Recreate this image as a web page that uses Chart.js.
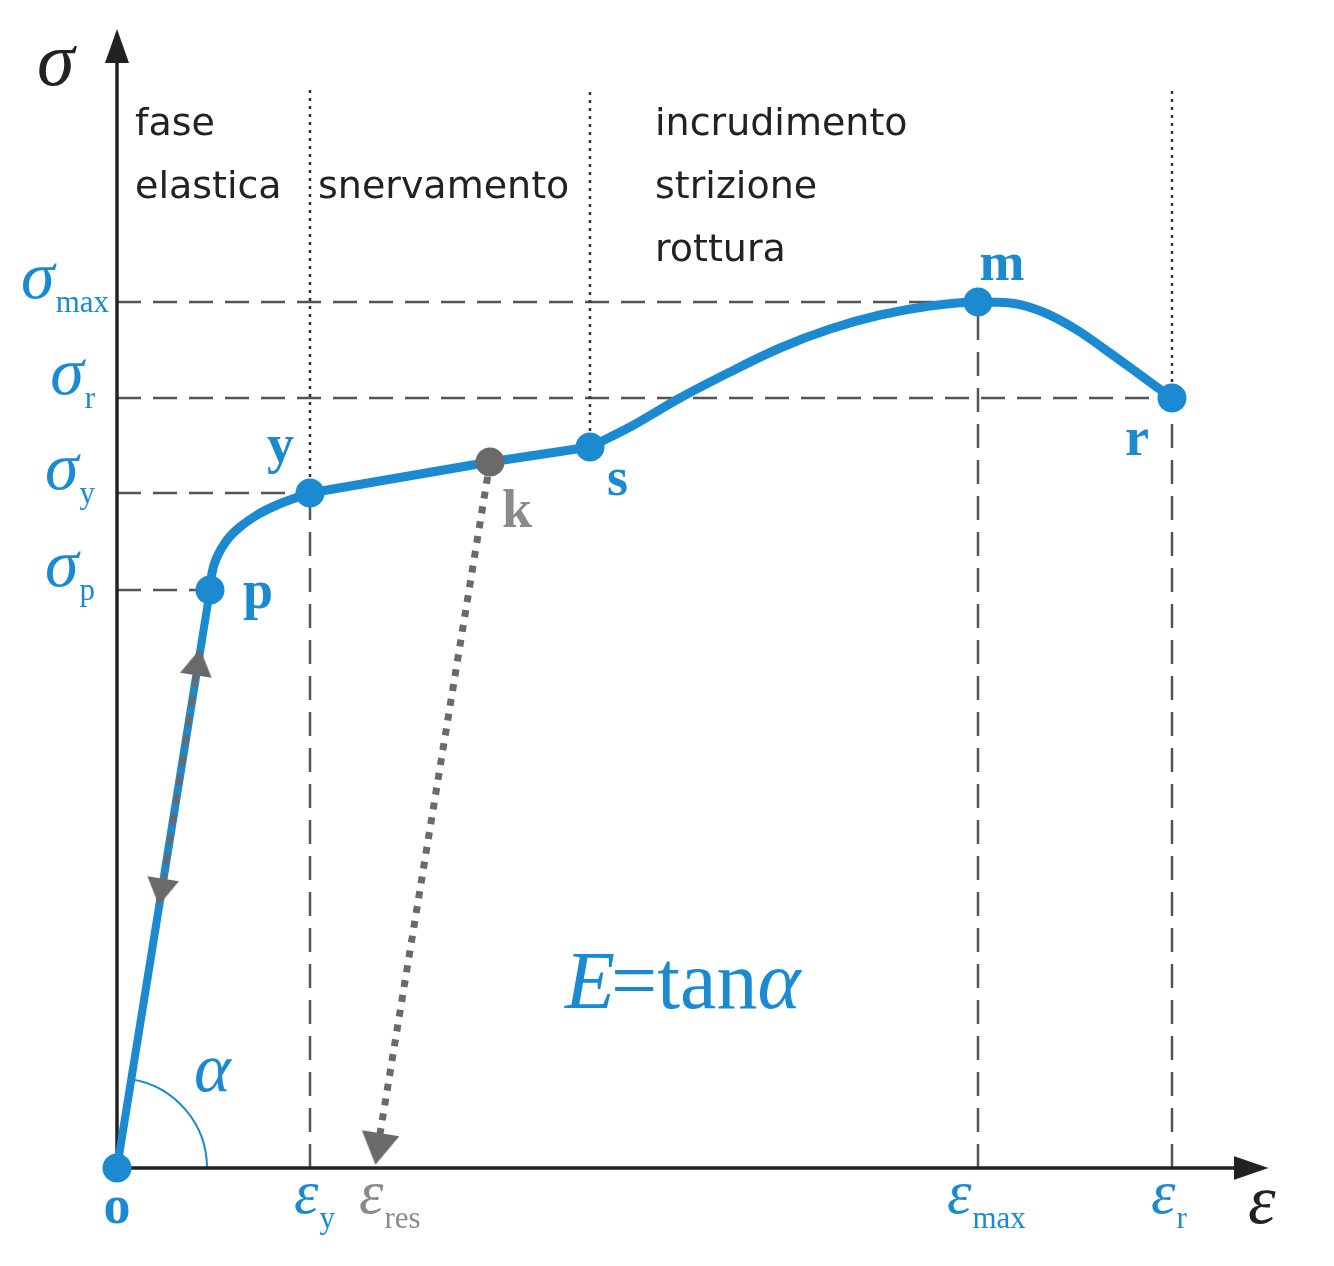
<!DOCTYPE html>
<html lang="it">
<head>
<meta charset="UTF-8">
<title>Diagramma sforzo-deformazione</title>
<script src="https://cdn.jsdelivr.net/npm/chart.js@4"></script>
<style>
  html, body { margin: 0; padding: 0; background: #fff; }
  #wrap { width: 1334px; height: 1266px; }
</style>
</head>
<body>
<div id="wrap"><canvas id="chart" width="1334" height="1266"></canvas></div>
<script>
// ---- dati (unita' arbitrarie: eps orizzontale, sigma verticale) ----
const elasticEps   = [0, 9.3];
const elasticSigma = [0, 57.8];

// ginocchio p -> y
const kneeEps   = [9.3, 9.5, 10.0, 11.0, 12.3, 14.0, 16.0, 19.3];
const kneeSigma = [57.8, 59.5, 61.1, 62.8, 64.1, 65.3, 66.3, 67.5];
// snervamento y -> k -> s (quasi rettilineo)
const yieldEps   = [19.3, 37.3, 47.3];
const yieldSigma = [67.5, 70.6, 72.1];
// incrudimento s -> m -> r
const hardEps   = [47.3, 51.3, 56.3, 61.3, 66.3, 71.3, 76.3, 81.3, 86.1, 89.3, 92.6, 96.0, 99.3, 102.6, 105.5];
const hardSigma = [72.1, 74.1, 77.0, 79.6, 82.0, 83.9, 85.3, 86.2, 86.6, 86.5, 85.6, 83.8, 81.5, 79.1, 77.0];

// punti notevoli
const pointNames = ['o', 'p', 'y', 's', 'm', 'r'];
const pointEps   = [0, 9.3, 19.3, 47.3, 86.1, 105.5];
const pointSigma = [0, 57.8, 67.5, 72.1, 86.6, 77.0];
const kEps = 37.3, kSigma = 70.6;

// scarico da k verso eps_res
const unloadEps   = [37.3, 26.3];
const unloadSigma = [70.6, 3.4];
const resArrowEps = 26.1, resArrowSigma = 1.9;

// tratto grigio tratteggiato carico/scarico sul ramo elastico
const cycleEps   = [7.9, 4.7];
const cycleSigma = [49.3, 29.0];
const cycleArrowEps   = [8.1, 4.4];
const cycleArrowSigma = [50.6, 27.6];

// etichette sugli assi
const sigmaTickNames  = ['max', 'r', 'y', 'p'];
const sigmaTickValues = [86.6, 77.0, 67.5, 57.8];
const sigmaTickEnds   = [86.1, 105.5, 19.3, 9.3];
const epsTickNames  = ['y', 'res', 'max', 'r'];
const epsTickValues = [19.3, 25.8, 86.1, 105.5];
const epsGuideValues = [19.3, 86.1, 105.5];
const epsGuideTops   = [67.5, 86.6, 77.0];

// fasi
const phaseEps     = [19.3, 47.3, 105.5];
const phaseBottoms = [67.5, 72.1, 77.0];
const phaseTop = 108;
const phaseLabels = [['fase', 'elastica'], ['snervamento'], ['incrudimento', 'strizione', 'rottura']];

const xMax = 115, yMax = 113.5;
const axisEnd = { eps: 112, sigma: 110.5 };
const axisArrow = { eps: 113.4, sigma: 112.2 };

// ---- stile ----
const BLUE = '#1b8ad0';
const GRAY = '#6a6a6a';
const LGRAY = '#8a8a8a';
const DARK = '#222';
const SERIF = '"Liberation Serif", "DejaVu Serif", serif';

function pts(xs, ys) { return xs.map((x, i) => ({ x: x, y: ys[i] })); }
function rot(dE, dS) { return Math.atan2(dE, dS) * 180 / Math.PI; }

function arrowImg(w, h, color) {
    const c = document.createElement('canvas');
    c.width = w; c.height = h;
    const g = c.getContext('2d');
    g.fillStyle = color;
    g.beginPath();
    g.moveTo(w / 2, 0);
    g.lineTo(w, h);
    g.lineTo(0, h);
    g.closePath();
    g.fill();
    return c;
}

function lineDs(data, color, width, dash, extra) {
    return Object.assign({
        data: data, showLine: true, borderColor: color, borderWidth: width,
        borderDash: dash || [], pointRadius: 0, fill: false, tension: 0, clip: false
    }, extra || {});
}

const datasets = [];

// guide orizzontali tratteggiate
sigmaTickValues.forEach((v, i) => {
    datasets.push(lineDs(pts([0, sigmaTickEnds[i]], [v, v]), '#555', 2.5, [24, 12]));
});
// guide verticali tratteggiate
epsGuideValues.forEach((v, i) => {
    datasets.push(lineDs(pts([v, v], [0, epsGuideTops[i]]), '#555', 2.5, [24, 12]));
});
// separatori di fase punteggiati
phaseEps.forEach((v, i) => {
    datasets.push(lineDs(pts([v, v], [phaseBottoms[i], phaseTop]), '#333', 2.5, [3, 5]));
});

// assi
datasets.push(lineDs(pts([0, 0], [0, axisEnd.sigma]), DARK, 3.5));
datasets.push(lineDs(pts([0, axisEnd.eps], [0, 0]), DARK, 3.5));
datasets.push({
    data: pts([0, axisArrow.eps], [axisArrow.sigma, 0]), showLine: false, clip: false,
    pointStyle: [arrowImg(24, 34, DARK), arrowImg(24, 35, DARK)],
    pointRotation: [0, 90], pointRadius: 10
});

// ramo elastico
datasets.push(lineDs(pts(elasticEps, elasticSigma), BLUE, 8, [], { borderCapStyle: 'round' }));
datasets.push(lineDs(pts(cycleEps, cycleSigma), GRAY, 5, [12, 8]));
const elAng = rot(elasticEps[1] - elasticEps[0], elasticSigma[1] - elasticSigma[0]);
datasets.push({
    data: pts(cycleArrowEps, cycleArrowSigma), showLine: false, clip: false,
    pointStyle: arrowImg(32, 27, GRAY), pointRotation: [elAng, elAng + 180], pointRadius: 10
});

// curva
const curveOpts = { cubicInterpolationMode: 'monotone', borderJoinStyle: 'round', borderCapStyle: 'round' };
datasets.push(lineDs(pts(kneeEps, kneeSigma), BLUE, 9, [], curveOpts));
datasets.push(lineDs(pts(yieldEps, yieldSigma), BLUE, 9, [], { borderJoinStyle: 'round', borderCapStyle: 'round' }));
datasets.push(lineDs(pts(hardEps, hardSigma), BLUE, 9, [], curveOpts));

// scarico punteggiato
datasets.push(lineDs(pts(unloadEps, unloadSigma), GRAY, 7, [7, 8]));
datasets.push({
    data: [{ x: resArrowEps, y: resArrowSigma }], showLine: false, clip: false,
    pointStyle: arrowImg(38, 32, GRAY),
    pointRotation: rot(unloadEps[1] - unloadEps[0], unloadSigma[1] - unloadSigma[0]), pointRadius: 10
});

// marcatori
datasets.push({
    data: pts(pointEps, pointSigma), showLine: false, clip: false,
    pointRadius: 14.5, pointBackgroundColor: BLUE, pointBorderWidth: 0
});
datasets.push({
    data: [{ x: kEps, y: kSigma }], showLine: false, clip: false,
    pointRadius: 14.5, pointBackgroundColor: GRAY, pointBorderWidth: 0
});

datasets.forEach((d, i) => { d.order = -i; });

// testo con pedice
function drawSub(ctx, main, sub, x, y, o) {
    ctx.textAlign = 'left';
    ctx.textBaseline = 'alphabetic';
    ctx.fillStyle = o.color;
    ctx.font = 'italic ' + o.size + 'px ' + SERIF;
    ctx.fillText(main, x, y);
    const w = ctx.measureText(main).width;
    ctx.font = o.subSize + 'px ' + SERIF;
    ctx.fillText(sub, x + w + (o.gap || 1), y + o.drop);
}
function subWidth(ctx, main, sub, o) {
    ctx.font = 'italic ' + o.size + 'px ' + SERIF;
    const w = ctx.measureText(main).width;
    ctx.font = o.subSize + 'px ' + SERIF;
    return w + (o.gap || 1) + ctx.measureText(sub).width;
}

const pointLabelOffsets = {
    o: [0, 55, 'center'], p: [33, 18, 'left'], y: [-43, -31, 'left'],
    s: [17, 48, 'left'], m: [24, -22, 'center'], r: [-35, 57, 'center']
};
const epsLabelDx = [-16, -16, -31, -21];

const annotations = {
    id: 'annotations',
    beforeDatasetsDraw(chart) {
        const ctx = chart.ctx;
        const xs = chart.scales.x, ys = chart.scales.y;
        const x0 = xs.getPixelForValue(0), y0 = ys.getPixelForValue(0);
        // arco alfa
        const a = Math.atan2(elasticSigma[1] - elasticSigma[0], elasticEps[1] - elasticEps[0]);
        ctx.save();
        ctx.strokeStyle = BLUE;
        ctx.lineWidth = 2;
        ctx.beginPath();
        ctx.arc(x0, y0, 90, -a, 0);
        ctx.stroke();
        ctx.restore();
    },
    afterDatasetsDraw(chart) {
        const ctx = chart.ctx;
        const xs = chart.scales.x, ys = chart.scales.y;
        const x0 = xs.getPixelForValue(0), y0 = ys.getPixelForValue(0);
        ctx.save();

        // simboli degli assi
        ctx.fillStyle = DARK;
        ctx.textBaseline = 'alphabetic';
        ctx.textAlign = 'left';
        ctx.font = 'italic 76px ' + SERIF;
        ctx.fillText('σ', x0 - 80, ys.getPixelForValue(yMax) + 52);
        ctx.font = 'italic 70px ' + SERIF;
        ctx.fillText('ε', xs.getPixelForValue(axisArrow.eps) - 3, y0 + 55);

        // etichette sigma
        const so = { color: BLUE, size: 68, subSize: 31, drop: 14 };
        sigmaTickNames.forEach((n, i) => {
            const py = ys.getPixelForValue(sigmaTickValues[i]);
            const w = subWidth(ctx, 'σ', n, so);
            const right = x0 - (n.length > 1 ? 8 : 22);
            drawSub(ctx, 'σ', n, right - w, py - 4, so);
        });

        // etichette eps
        epsTickNames.forEach((n, i) => {
            const px = xs.getPixelForValue(epsTickValues[i]);
            const eo = { color: n === 'res' ? LGRAY : BLUE, size: 62, subSize: 31, drop: 15 };
            drawSub(ctx, 'ε', n, px + epsLabelDx[i], y0 + 45, eo);
        });

        // lettere dei punti
        ctx.font = 'bold 54px ' + SERIF;
        ctx.fillStyle = BLUE;
        pointNames.forEach((n, i) => {
            const off = pointLabelOffsets[n];
            ctx.textAlign = off[2];
            ctx.fillText(n, xs.getPixelForValue(pointEps[i]) + off[0], ys.getPixelForValue(pointSigma[i]) + off[1]);
        });
        ctx.fillStyle = LGRAY;
        ctx.textAlign = 'left';
        ctx.fillText('k', xs.getPixelForValue(kEps) + 12, ys.getPixelForValue(kSigma) + 65);

        // alfa
        ctx.fillStyle = BLUE;
        ctx.font = 'italic 70px ' + SERIF;
        ctx.fillText('α', x0 + 77, y0 - 77);

        // E = tan alfa
        let ex = xs.getPixelForValue(44.8), ey = ys.getPixelForValue(16.0);
        ctx.font = 'italic 82px ' + SERIF;
        ctx.fillText('E', ex, ey);
        ex += ctx.measureText('E').width - 4;
        ctx.font = '82px ' + SERIF;
        ctx.fillText('=tan', ex, ey);
        ex += ctx.measureText('=tan').width;
        ctx.font = 'italic 82px ' + SERIF;
        ctx.fillText('α', ex, ey);

        // nomi delle fasi
        ctx.fillStyle = DARK;
        ctx.font = '38px "DejaVu Sans", sans-serif';
        const top = chart.chartArea.top;
        const phaseX = [x0 + 18, xs.getPixelForValue(phaseEps[0]) + 8, xs.getPixelForValue(phaseEps[1]) + 65];
        phaseLabels.forEach((lines, i) => {
            const startLine = lines.length === 1 ? 1 : 0;
            lines.forEach((t, j) => {
                ctx.fillText(t, phaseX[i], top + 102 + (startLine + j) * 63);
            });
        });

        ctx.restore();
    }
};

new Chart(document.getElementById('chart'), {
    type: 'scatter',
    data: { datasets: datasets },
    options: {
        responsive: false,
        animation: false,
        events: [],
        layout: { padding: { left: 117, right: 67, top: 33, bottom: 98 } },
        plugins: { legend: { display: false }, tooltip: { enabled: false }, title: { display: false } },
        scales: {
            x: { type: 'linear', min: 0, max: xMax, display: false },
            y: { type: 'linear', min: 0, max: yMax, display: false }
        }
    },
    plugins: [annotations]
});
</script>
</body>
</html>
